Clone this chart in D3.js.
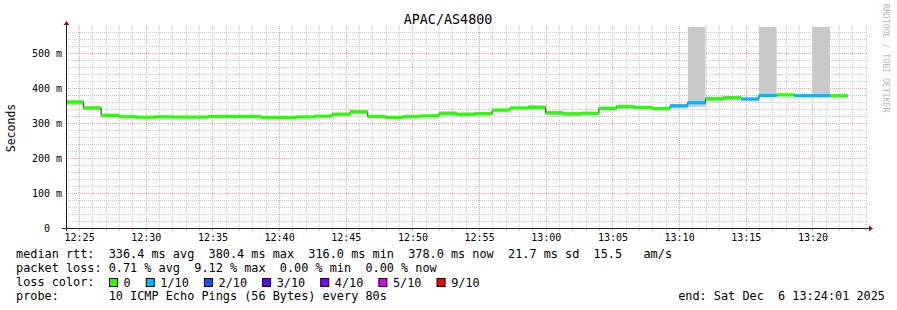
<!DOCTYPE html>
<html>
<head>
<meta charset="utf-8">
<script src="https://cdn.jsdelivr.net/npm/d3@7/dist/d3.min.js"></script>
<style>
body { margin: 0; background: #fff; }
text { font-family: "DejaVu Sans Mono", monospace; white-space: pre; }
</style>
</head>
<body>
<div id="chart"></div>
<script>
// ---- data ----
var title = "APAC/AS4800";
var yLabel = "Seconds";
var watermark = "RRDTOOL / TOBI OETIKER";
var stepSeconds = 80;

// median rtt (ms) for each 80s step, first step starts 12:23:59
var medianMs = [360, 343, 322, 318, 316.5, 317.5, 317, 317, 318.5, 318.5,
  318.5, 316, 316, 317.5, 319.5, 325, 332, 318.5, 316, 318.5,
  320, 327, 325, 327, 337, 343, 344.5, 329, 326.5, 328,
  341.5, 347, 344.5, 341, 349, 358, 369, 372, 368.5, 378.5,
  380.4, 378, 378, 378];
// smoke band (lowest / highest ping), 600 = off the top of the graph
var smokeLo = [352, 337, 315, 315, 314, 315, 315, 315, 316, 316,
  316, 314, 314, 315, 317, 322, 326, 316, 314, 316,
  317, 324, 320, 322, 333, 341, 341, 323, 318, 322,
  336, 340, 338, 336, 342, 346, 363, 366, 364, 374,
  377, 375, 375, 376];
var smokeHi = [365, 348, 326, 320, 318, 319, 319, 319, 320, 320,
  320, 318, 318, 319, 323, 328, 335, 320, 318, 320,
  325, 334, 327, 329, 339, 346, 351, 334, 329, 331,
  348, 351, 349, 344, 354, 600, 374, 377, 371, 600,
  382, 379, 600, 379];
// pings lost out of 10 in each step
var lostPings = [0, 0, 0, 0, 0, 0, 0, 0, 0, 0,
  0, 0, 0, 0, 0, 0, 0, 0, 0, 0,
  0, 0, 0, 0, 0, 0, 0, 0, 0, 0,
  0, 0, 0, 0, 1, 1, 0, 0, 1, 1,
  0, 1, 1, 0];

var lossLabels = ["0", "1/10", "2/10", "3/10", "4/10", "5/10", "9/10"];
var lossLimits = [0, 1, 2, 3, 4, 5, 9];
var lossColors = ["#26ff00", "#00b8ff", "#0059ff", "#5e00ff", "#7e00ff", "#dd00ff", "#ff0000"];

var yTicksMajor = [0, 100, 200, 300, 400, 500];
var yTickLabels = ["0  ", "100 m", "200 m", "300 m", "400 m", "500 m"];

var statLines = [
  "median rtt:  336.4 ms avg  380.4 ms max  316.0 ms min  378.0 ms now  21.7 ms sd  15.5   am/s",
  "packet loss: 0.71 % avg  9.12 % max  0.00 % min  0.00 % now",
  "loss color:",
  "probe:       10 ICMP Echo Pings (56 Bytes) every 80s"
];
var endLabel = "end: Sat Dec  6 13:24:01 2025";

var viewEnd = new Date(2025, 11, 6, 13, 24, 1);
var viewStart = new Date(viewEnd.getTime() - 3600 * 1000);
var firstStep = new Date(2025, 11, 6, 12, 23, 59);
var yMax = 571.43;

// ---- layout ----
var W = 897, H = 310;
var pLeft = 66, pRight = 866, pTop = 28, pBottom = 228;
var fontAxis = 10, fontLegend = 11.85, charW = 7.14;

var svg = d3.select("#chart").append("svg")
  .attr("width", W).attr("height", H)
  .style("display", "block");

svg.append("rect").attr("width", W).attr("height", H).attr("fill", "#fff");

var x = d3.scaleTime().domain([viewStart, viewEnd]).range([pLeft, pRight]);
var y = d3.scaleLinear().domain([0, yMax]).range([pBottom, pTop]);

var steps = medianMs.map(function(m, i) {
  var t0 = new Date(firstStep.getTime() + i * stepSeconds * 1000);
  return {
    t0: t0,
    t1: new Date(t0.getTime() + stepSeconds * 1000),
    med: m, lo: smokeLo[i], hi: smokeHi[i], lost: lostPings[i]
  };
});

function lossColor(n) {
  var c = lossColors[0];
  lossLimits.forEach(function(l, i) { if (n >= l) c = lossColors[i]; });
  return c;
}

svg.append("clipPath").attr("id", "plot")
  .append("rect").attr("x", pLeft).attr("y", pTop - 1)
  .attr("width", pRight - pLeft).attr("height", pBottom - pTop + 1);

// grid
var grid = svg.append("g").attr("shape-rendering", "crispEdges");
var minuteTicks = x.ticks(d3.timeMinute.every(1));
minuteTicks.forEach(function(t) {
  var major = t.getMinutes() % 5 === 0;
  var px = Math.round(x(t)) + 0.5;
  grid.append("line")
    .attr("x1", px).attr("x2", px).attr("y1", pTop - 2).attr("y2", pBottom)
    .attr("stroke", major ? "#f0a0a0" : "#c8c8c8")
    .attr("stroke-dasharray", "1,1");
  grid.append("line")
    .attr("x1", px).attr("x2", px).attr("y1", pBottom).attr("y2", pBottom + 3)
    .attr("stroke", major ? "#f0a0a0" : "#c0c0c0");
});
d3.range(20, yMax, 20).forEach(function(v) {
  var major = v % 100 === 0;
  var py = Math.round(y(v)) + 0.5;
  grid.append("line")
    .attr("x1", pLeft).attr("x2", pRight + 2).attr("y1", py).attr("y2", py)
    .attr("stroke", major ? "#f0a0a0" : "#c8c8c8")
    .attr("stroke-dasharray", "1,1");
});

// smoke
var plot = svg.append("g").attr("clip-path", "url(#plot)");
plot.selectAll("rect.smoke").data(steps).enter().append("rect")
  .attr("class", "smoke")
  .attr("x", function(d) { return x(d.t0); })
  .attr("width", function(d) { return x(d.t1) - x(d.t0); })
  .attr("y", function(d) { return y(d.hi); })
  .attr("height", function(d) { return y(d.lo) - y(d.hi); })
  .attr("fill", "#c9c9c9");
plot.selectAll("rect.core").data(steps).enter().append("rect")
  .attr("class", "core")
  .attr("x", function(d) { return x(d.t0); })
  .attr("width", function(d) { return x(d.t1) - x(d.t0); })
  .attr("y", function(d) { return y(Math.min(d.hi, d.med + 3)); })
  .attr("height", function(d) { return y(Math.max(d.lo, d.med - 3)) - y(Math.min(d.hi, d.med + 3)); })
  .attr("fill", "#a8a8a8");

// median line
var linePts = steps.map(function(d) { return [d.t0, d.med]; });
linePts.push([steps[steps.length - 1].t1, steps[steps.length - 1].med]);
plot.append("path")
  .attr("d", d3.line().curve(d3.curveStepAfter)
    .x(function(d) { return x(d[0]); })
    .y(function(d) { return y(d[1]); })(linePts))
  .attr("fill", "none").attr("stroke", "#202020").attr("stroke-width", 1);
plot.selectAll("rect.med").data(steps).enter().append("rect")
  .attr("class", "med")
  .attr("x", function(d) { return x(d.t0); })
  .attr("width", function(d) { return x(d.t1) - x(d.t0); })
  .attr("y", function(d) { return y(d.med) - 1.6; })
  .attr("height", 3.2)
  .attr("fill", function(d) { return lossColor(d.lost); });

// axes
var axisColor = "#222";
svg.append("line").attr("x1", pLeft - 4).attr("x2", pRight + 3)
  .attr("y1", pBottom + 0.5).attr("y2", pBottom + 0.5)
  .attr("stroke", axisColor).attr("shape-rendering", "crispEdges");
svg.append("line").attr("x1", pLeft + 0.5).attr("x2", pLeft + 0.5)
  .attr("y1", pBottom + 3).attr("y2", pTop - 4)
  .attr("stroke", axisColor).attr("shape-rendering", "crispEdges");
svg.append("path")
  .attr("d", "M" + (pRight + 3) + "," + (pBottom - 2.5) + "L" + (pRight + 7) + "," + (pBottom + 0.5) + "L" + (pRight + 3) + "," + (pBottom + 3.5) + "Z")
  .attr("fill", "#8b1a1a");
svg.append("path")
  .attr("d", "M" + (pLeft - 2.5) + "," + (pTop - 3) + "L" + (pLeft + 0.5) + "," + (pTop - 7) + "L" + (pLeft + 3.5) + "," + (pTop - 3) + "Z")
  .attr("fill", "#8b1a1a");

// tick labels
svg.selectAll("text.xt").data(x.ticks(d3.timeMinute.every(5))).enter().append("text")
  .attr("class", "xt")
  .attr("x", function(d) { return x(d) + 0.5; })
  .attr("y", pBottom + 13)
  .attr("text-anchor", "middle")
  .attr("font-size", fontAxis)
  .text(d3.timeFormat("%H:%M"));
svg.selectAll("text.yt").data(yTicksMajor).enter().append("text")
  .attr("class", "yt")
  .attr("x", pLeft - 4)
  .attr("y", function(d) { return y(d) + 3.5; })
  .attr("text-anchor", "end")
  .attr("font-size", fontAxis)
  .text(function(d, i) { return yTickLabels[i]; });

// titles
svg.append("text").attr("x", 448).attr("y", 23.5)
  .attr("text-anchor", "middle").attr("font-size", 13.4)
  .text(title);
svg.append("text").attr("transform", "translate(15," + ((pTop + pBottom) / 2) + ") rotate(-90)")
  .attr("text-anchor", "middle").attr("font-size", 11.5)
  .text(yLabel);
svg.append("text").attr("transform", "translate(883,4) rotate(90)")
  .attr("font-size", 8.2).attr("fill", "#b8b8b8")
  .text(watermark);

// legend
statLines.forEach(function(s, i) {
  svg.append("text").attr("x", 16).attr("y", 258 + i * 14)
    .attr("font-size", fontLegend).attr("xml:space", "preserve")
    .text(s);
});
var bx = 109;
lossLabels.forEach(function(lab, i) {
  svg.append("rect").attr("x", bx + 0.5).attr("y", 278.5)
    .attr("width", 8).attr("height", 8)
    .attr("fill", lossColors[i]).attr("stroke", "#000");
  svg.append("text").attr("x", bx + 14.6).attr("y", 286.5)
    .attr("font-size", fontLegend).text(lab);
  bx = bx + 14.6 + lab.length * charW + 15;
});
svg.append("text").attr("x", 885).attr("y", 300)
  .attr("text-anchor", "end").attr("font-size", fontLegend).attr("xml:space", "preserve")
  .text(endLabel);
</script>
</body>
</html>
